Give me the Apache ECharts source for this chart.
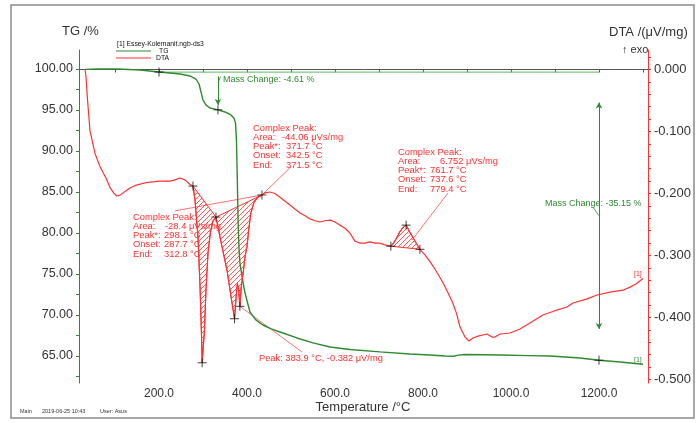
<!DOCTYPE html>
<html>
<head>
<meta charset="utf-8">
<script src="https://cdn.jsdelivr.net/npm/echarts@6/dist/echarts.min.js"></script>
<style>
  html, body { margin: 0; padding: 0; background: #fff; }
  #chart { width: 698px; height: 423px; }
</style>
</head>
<body>
<div id="chart"></div>
<script>
// ---- TG curve: temperature (°C) / mass (%) ----
const tgTemp = [31.8, 60, 104.5, 157, 200, 225, 248, 270.5, 284, 291, 295.5, 300, 307, 316, 334, 350, 363.6, 370.5,
  374, 376, 378, 380, 382, 384, 390, 395.5, 406.8, 420, 436, 455, 475, 513.6, 550, 588.6, 634, 702, 770, 816, 850,
  870, 880, 895, 940, 975, 1040, 1089, 1157, 1200, 1248, 1300];
const tgMass = [99.95, 100.0, 100.0, 99.88, 99.63, 99.51, 99.39, 99.15, 98.78, 98.17, 97.2, 96.2, 95.6, 95.24, 95.02, 94.76, 94.4, 94.0,
  93.4, 91.3, 86.5, 81.0, 77.9, 76.34, 74.27, 72.68, 70.37, 69.4, 68.78, 68.3, 67.93, 67.2, 66.6, 66.1, 65.8, 65.5, 65.24, 65.12, 65.0,
  64.97, 65.1, 65.18, 65.15, 65.12, 65.05, 65.0, 64.76, 64.48, 64.27, 64.0];

// ---- DTA curve: temperature (°C) / signal (µV/mg) ----
const dtaTemp = [31.8, 34, 37.6, 43, 54.5, 66, 79.5, 88.6, 97, 104, 111, 122, 134, 146, 157, 168, 180, 191, 202, 213, 225, 236, 248, 259, 270,
  277.3, 281.8, 288.6, 293.2, 296.6, 298.1, 303.4, 306.8, 311.4, 317, 322.7, 329.5,
  338.6, 354.5, 366, 371.7, 375, 378, 381, 383.9, 387, 391, 396, 400, 404, 409, 416, 425, 434,
  441, 452, 463.6, 475, 486, 497.7, 509, 520.5, 532, 543, 554.5, 566, 577, 589, 600, 611, 623, 634, 645.5, 657, 668, 679.5, 691, 702, 713.6,
  727, 733, 740, 747, 754.5, 761.7, 770, 782, 793,
  804.5, 816, 830, 845.5, 856, 868, 876, 884, 895.5, 904.5, 913.6, 925, 945.5, 957, 963.6, 975, 997.7, 1020.5, 1043, 1072.7, 1104.5,
  1127, 1141, 1173, 1195.5, 1225, 1254.5, 1270.5, 1284, 1300];
const dtaSignal = [0.000, -0.010, -0.049, -0.098, -0.135, -0.157, -0.175, -0.190, -0.199, -0.204, -0.203, -0.197, -0.191, -0.187, -0.185, -0.183, -0.1815, -0.181, -0.180, -0.180, -0.180, -0.178, -0.175, -0.178, -0.185,
  -0.188, -0.210, -0.270, -0.348, -0.428, -0.473, -0.420, -0.356, -0.296, -0.262, -0.244, -0.238,
  -0.270, -0.3234, -0.3766, -0.402, -0.370, -0.345, -0.355, -0.382, -0.350, -0.330, -0.300, -0.286, -0.258, -0.231, -0.214, -0.206, -0.2024,
  -0.199, -0.1976, -0.200, -0.206, -0.212, -0.2185, -0.225, -0.2315, -0.236, -0.241, -0.244, -0.246, -0.244, -0.243, -0.246, -0.251, -0.256, -0.264, -0.277, -0.280, -0.280, -0.278, -0.280, -0.280, -0.283,
  -0.285, -0.280, -0.272, -0.262, -0.255, -0.251, -0.262, -0.277, -0.290,
  -0.299, -0.310, -0.325, -0.344, -0.359, -0.377, -0.393, -0.415, -0.4315, -0.438, -0.433, -0.430, -0.4266, -0.4315, -0.4315, -0.4266, -0.425, -0.4185, -0.409, -0.396, -0.388,
  -0.383, -0.3766, -0.370, -0.3637, -0.359, -0.356, -0.351, -0.346, -0.337];

// ---- axis ticks ----
const tempTicks = [200, 400, 600, 800, 1000, 1200];
const tempMinorTicks = [100, 300, 500, 700, 900, 1100, 1300];
const tgTicks = [65, 70, 75, 80, 85, 90, 95, 100];
const tgMinorTicks = [62.5, 67.5, 72.5, 77.5, 82.5, 87.5, 92.5, 97.5];
const dtaTicks = [0, -0.1, -0.2, -0.3, -0.4, -0.5];
const dtaMinorTicks = [0.02, -0.02, -0.04, -0.06, -0.08, -0.12, -0.14, -0.16, -0.18, -0.22, -0.24, -0.26, -0.28,
  -0.32, -0.34, -0.36, -0.38, -0.42, -0.44, -0.46, -0.48];

// ---- evaluation marks ----
const tgMarkTemp = [200, 334, 1200];
const tgMarkMass = [99.63, 95.02, 64.48];
const dtaMarkTemp = [277.3, 298.1, 329.5, 371.7, 383.9, 434, 727, 761.7, 793];
const dtaMarkSignal = [-0.188, -0.473, -0.238, -0.402, -0.382, -0.2024, -0.285, -0.251, -0.290];

// integration limits of the three complex peaks (°C)
const peakStart = [277.3, 329.5, 727];
const peakEnd = [329.5, 434, 793];

// mass step evaluation
const massRefLevel = 99.63;
const massRefTemp = [200, 1200];
const massStep1 = [[334, 99.1], [334, 95.6]];
const massStep2 = [[1200, 95.9], [1200, 68.3]];
const massLeader1 = [[334, 98.3], [340, 99.1]];
const massLeader2 = [[1186, 83.2], [1200, 82.1]];

// peak annotation leaders (°C, µV/mg)
const peakLeader1 = [[236.4, -0.228], [434, -0.2024]];
const peakLeader2 = [[434, -0.2024], [500, -0.157]];
const peakLeader3 = [[857, -0.199], [775, -0.275]];
const peakLeader4 = [[383.9, -0.382], [525, -0.4556]];

const GREEN = '#2f8a2f';
const LIGHT_GREEN = '#7cc57c';
const RED = '#ff3232';
const FONT = '"Liberation Sans", Arial, sans-serif';

// diagonal hatch used for integrated peak areas
const hatch = document.createElement('canvas');
hatch.width = 5; hatch.height = 5;
(function () {
  const c = hatch.getContext('2d');
  c.strokeStyle = RED; c.lineWidth = 0.8;
  c.beginPath();
  c.moveTo(0, 5); c.lineTo(5, 0);
  c.moveTo(-1, 1); c.lineTo(1, -1);
  c.moveTo(4, 6); c.lineTo(6, 4);
  c.stroke();
})();

const zip = (a, b) => a.map((v, i) => [v, b[i]]);

function segment(points, yAxisIndex, color, width) {
  return {
    type: 'line', xAxisIndex: 0, yAxisIndex, data: points, symbol: 'none', silent: true,
    lineStyle: { color, width: width || 0.8 }, z: 3
  };
}

const chart = echarts.init(document.getElementById('chart'), null, { renderer: 'canvas' });

const cross = 'path://M0,5L10,5M5,0L5,10';

const option = {
  animation: false,
  backgroundColor: '#fff',
  grid: { left: 79, right: 50, top: 50, bottom: 40, containLabel: false, outerBoundsMode: 'none' },
  xAxis: [{
    type: 'value', min: 18.2, max: 1311.4,
    axisLine: { show: true, lineStyle: { color: '#555', width: 1 } },
    axisTick: { show: true, customValues: tempTicks.concat(tempMinorTicks), length: 3, lineStyle: { color: '#555' } },
    axisLabel: { customValues: tempTicks, formatter: v => v.toFixed(1), fontSize: 12, color: '#333', margin: 5, fontFamily: FONT },
    splitLine: { show: false }
  }],
  yAxis: [{
    type: 'value', position: 'left', min: 61.707, max: 102.317,
    axisLine: { show: true, lineStyle: { color: GREEN, width: 1 } },
    axisTick: { show: true, customValues: tgTicks.concat(tgMinorTicks), length: 3, lineStyle: { color: GREEN } },
    axisLabel: { customValues: tgTicks, formatter: v => v.toFixed(2), fontSize: 12.5, color: '#333', margin: 6, fontFamily: FONT },
    splitLine: { show: false }
  }, {
    type: 'value', position: 'right', min: -0.50565, max: 0.03145,
    axisLine: { show: true, lineStyle: { color: RED, width: 1 } },
    axisTick: { show: true, customValues: dtaTicks.concat(dtaMinorTicks), length: 3, lineStyle: { color: RED } },
    axisLabel: { customValues: dtaTicks, formatter: v => v.toFixed(3), fontSize: 13, color: '#333', margin: 6, fontFamily: FONT },
    splitLine: { show: false }
  }],
  series: [
    // hatched complex peak areas between baseline and DTA curve
    {
      type: 'custom', xAxisIndex: 0, yAxisIndex: 1, silent: true, z: 2,
      encode: { x: [0, 1] },
      data: zip(peakStart, peakEnd),
      renderItem: function (params, api) {
        const t0 = api.value(0), t1 = api.value(1);
        const pts = [];
        for (let i = 0; i < dtaTemp.length; i++) {
          if (dtaTemp[i] >= t0 - 1e-6 && dtaTemp[i] <= t1 + 1e-6) pts.push(api.coord([dtaTemp[i], dtaSignal[i]]));
        }
        return {
          type: 'polygon', shape: { points: pts },
          style: { fill: { image: hatch, repeat: 'repeat' }, stroke: RED, lineWidth: 1 }
        };
      }
    },
    // mass reference level
    segment(zip(massRefTemp, [massRefLevel, massRefLevel]), 0, LIGHT_GREEN, 1.2),
    // TG curve
    {
      name: 'TG', type: 'line', xAxisIndex: 0, yAxisIndex: 0, data: zip(tgTemp, tgMass),
      symbol: 'none', lineStyle: { color: GREEN, width: 1.4 }, z: 4, silent: true,
      markLine: {
        silent: true, animation: false, label: { show: false },
        lineStyle: { color: GREEN, width: 1, type: 'solid' },
        symbolSize: [5, 6],
        data: [
          [{ coord: massStep1[0], symbol: 'none' }, { coord: massStep1[1], symbol: 'arrow' }],
          [{ coord: massStep2[0], symbol: 'arrow' }, { coord: massStep2[1], symbol: 'arrow' }]
        ]
      }
    },
    // DTA curve
    {
      name: 'DTA', type: 'line', xAxisIndex: 0, yAxisIndex: 1, data: zip(dtaTemp, dtaSignal),
      symbol: 'none', lineStyle: { color: RED, width: 1.2 }, z: 4, silent: true
    },
    segment(massLeader1, 0, GREEN, 0.8),
    segment(massLeader2, 0, GREEN, 0.8),
    segment(peakLeader1, 1, RED, 0.7),
    segment(peakLeader2, 1, RED, 0.7),
    segment(peakLeader3, 1, RED, 0.7),
    segment(peakLeader4, 1, RED, 0.7),
    // evaluation crosses
    {
      type: 'scatter', xAxisIndex: 0, yAxisIndex: 0, data: zip(tgMarkTemp, tgMarkMass),
      symbol: cross, symbolSize: 9, silent: true, z: 6,
      itemStyle: { color: 'rgba(0,0,0,0)', borderColor: '#111', borderWidth: 1 }
    },
    {
      type: 'scatter', xAxisIndex: 0, yAxisIndex: 1, data: zip(dtaMarkTemp, dtaMarkSignal),
      symbol: cross, symbolSize: 9, silent: true, z: 6,
      itemStyle: { color: 'rgba(0,0,0,0)', borderColor: '#111', borderWidth: 1 }
    }
  ],
  graphic: {
    elements: []
  }
};

// ---- texts and frame ----
const g = option.graphic.elements;
function txt(x, y, s, size, color, align) {
  g.push({
    type: 'text', x, y, silent: true, z: 10,
    style: { text: s, fontSize: size, fill: color, fontFamily: FONT, verticalAlign: 'middle', align: align || 'left' }
  });
}
g.push({ type: 'rect', shape: { x: 11, y: 5, width: 683, height: 413 }, style: { fill: 'none', stroke: '#8c8c8c', lineWidth: 1.5 }, silent: true });

txt(62, 31, 'TG /%', 13, '#333');
txt(609, 32, 'DTA /(μV/mg)', 13, '#333');
txt(622, 50, '↑ exo', 11, '#333');
txt(363, 407, 'Temperature /°C', 13, '#333', 'center');

// legend block
txt(117, 44, '[1] Essey-Kolemanit.ngb-ds3', 6.8, '#111');
g.push({ type: 'line', shape: { x1: 116, y1: 51, x2: 151, y2: 51 }, style: { stroke: GREEN, lineWidth: 1 }, silent: true });
txt(159, 51.5, 'TG', 6.8, '#111');
g.push({ type: 'line', shape: { x1: 116, y1: 58, x2: 151, y2: 58 }, style: { stroke: RED, lineWidth: 1 }, silent: true });
txt(156, 58.5, 'DTA', 6.8, '#111');

// mass change labels
txt(223, 80, 'Mass Change: -4.61 %', 9, GREEN);
txt(545, 204, 'Mass Change: -35.15 %', 9, GREEN);

// peak annotation blocks
function block(x, y, keys, vals, offs) {
  for (let i = 0; i < keys.length; i++) {
    const yy = y + i * 9.25;
    txt(x, yy, keys[i], 9.4, RED);
    if (vals[i]) txt(x + offs[i], yy, vals[i], 9.4, RED);
  }
}
block(133, 217, ['Complex Peak:', 'Area:', 'Peak*:', 'Onset:', 'End:'],
  ['', '-28.4 μVs/mg', '298.1 °C', '287.7 °C', '312.8 °C'], [0, 32, 31, 31, 31]);
block(253, 128, ['Complex Peak:', 'Area:', 'Peak*:', 'Onset:', 'End:'],
  ['', '-44.06 μVs/mg', '371.7 °C', '342.5 °C', '371.5 °C'], [0, 29, 33, 33, 33]);
block(398, 152, ['Complex Peak:', 'Area:', 'Peak*:', 'Onset:', 'End:'],
  ['', '6.752 μVs/mg', '761.7 °C', '737.6 °C', '779.4 °C'], [0, 42, 32, 32, 32]);
txt(259, 358, 'Peak: 383.9 °C, -0.382 μV/mg', 9.3, RED);

// curve tags
txt(634, 274, '[1]', 7, RED);
txt(634, 360, '[1]', 7, GREEN);

// footer
txt(20, 411, 'Main', 5.5, '#333');
txt(42, 411, '2019-06-25 10:43', 5.5, '#333');
txt(100, 411, 'User: Asus', 5.5, '#333');

chart.setOption(option);
</script>
</body>
</html>
